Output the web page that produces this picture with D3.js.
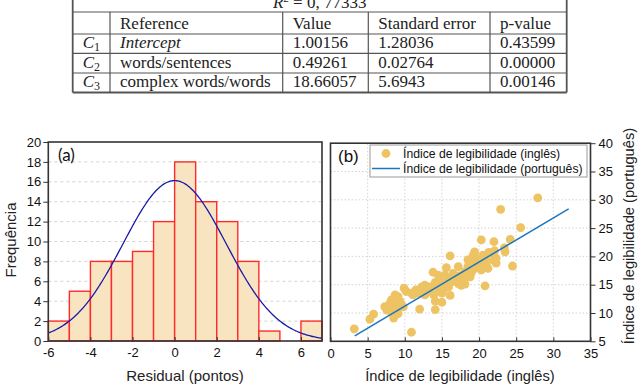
<!DOCTYPE html>
<html>
<head>
<meta charset="utf-8">
<script src="https://cdn.jsdelivr.net/npm/d3@7"></script>
<style>
  body { margin: 0; background: #fff; }
  svg { display: block; }
</style>
</head>
<body>
<svg id="chart" width="640" height="385"></svg>
<script>
// ---- table data ----
const rSquaredText = "0, 77333";
const tableHeader = ["", "Reference", "Value", "Standard error", "p-value"];
const coefIndex = ["1", "2", "3"];
const coefNames = ["Intercept", "words/sentences", "complex words/words"];
const coefValues = ["1.00156", "0.49261", "18.66057"];
const coefErrors = ["1.28036", "0.02764", "5.6943"];
const coefPValues = ["0.43599", "0.00000", "0.00146"];

// ---- histogram (a) ----
const binStarts = [-6, -5, -4, -3, -2, -1, 0, 1, 2, 3, 4, 5, 6];
const binCounts = [2, 5, 8, 8, 9, 12, 18, 14, 12, 8, 1, 0, 2];
const histXTicks = [-6, -4, -2, 0, 2, 4, 6];
const histYTicks = [0, 2, 4, 6, 8, 10, 12, 14, 16, 18, 20];
const fitMean = 0;
const fitSd = 2.45;

// ---- scatter (b) ----
const engIndex = [3.2, 10.9, 5.3, 5.8, 27.9, 22.9, 25.6, 20.3, 22.0, 24.2,
  24.5, 23.5, 23.4, 20.8, 16.1, 13.8, 15.6, 17.2, 19.2, 19.7,
  21.3, 21.9, 22.3, 21.2, 19.9, 20.3, 18.9, 18.1, 17.6, 16.7,
  15.9, 15.2, 14.5, 14.1, 13.2, 12.7, 12.3, 11.5, 9.9, 15.0,
  16.1, 14.1, 15.0, 14.1, 12.0, 10.2, 9.1, 8.7, 8.2, 8.9,
  7.8, 7.6, 8.5, 9.1, 9.8, 8.7, 18.1, 17.6, 16.5, 15.4,
  14.7, 13.4, 11.1, 12.7, 18.5, 19.4, 20.8, 21.7, 21.0, 18.8,
  17.2, 15.9, 13.9, 12.7, 11.8, 8.0, 9.4, 17.4, 16.3, 15.4,
  19.7, 22.3, 18.5, 18.1, 19.2, 20.3, 12.3, 13.9, 15.2, 17.9,
  8.2, 7.3, 22.1, 16.7, 14.5, 10.9, 20.5, 19.4];
const porIndex = [7.2, 6.6, 8.9, 9.8, 30.35, 28.3, 25.1, 22.9, 22.6, 23.0,
  18.3, 20.8, 21.5, 14.8, 20.1, 17.2, 18.0, 18.2, 20.2, 19.6,
  20.7, 19.4, 18.8, 17.9, 18.0, 19.1, 17.0, 16.1, 14.9, 15.8,
  16.1, 15.2, 14.4, 15.4, 14.6, 14.9, 13.8, 14.1, 14.4, 13.5,
  13.1, 12.1, 11.9, 10.6, 10.7, 13.8, 12.9, 13.2, 12.3, 11.4,
  10.8, 10.5, 9.1, 9.9, 11.1, 10.8, 17.3, 16.4, 17.0, 16.7,
  15.8, 13.8, 13.2, 14.1, 18.2, 18.8, 19.6, 20.6, 18.5, 16.4,
  15.2, 14.6, 13.2, 13.2, 13.5, 11.7, 12.0, 16.6, 15.5, 14.4,
  18.2, 19.7, 19.4, 15.1, 17.6, 17.6, 14.6, 14.9, 16.2, 15.8,
  10.2, 11.1, 21.0, 16.7, 16.7, 13.5, 20.2, 20.8];
const fitLineX = [3.26, 32.06];
const fitLineY = [5.97, 28.4];
const scatterXTicks = [0, 5, 10, 15, 20, 25, 30, 35];
const scatterYTicks = [5, 10, 15, 20, 25, 30, 35, 40];
const legendLabels = ["Índice de legibilidade (inglês)", "Índice de legibilidade (português)"];

const svg = d3.select("#chart");
const sans = "'Liberation Sans', Arial, sans-serif";
const serif = "'Liberation Serif', 'Times New Roman', serif";

// ================= table =================
const colLines = [72.7, 110, 282.7, 368.3, 490, 566.7];
const rowLines = [12, 34, 53.3, 73, 92.5];
const rowBase = [29, 48.3, 68, 87.3];
const tbl = svg.append("g").attr("font-family", serif).attr("font-size", 17).attr("fill", "#222");

tbl.append("text").attr("x", (colLines[0] + colLines[5]) / 2).attr("y", 7.5)
  .attr("text-anchor", "middle")
  .call(t => {
    t.append("tspan").attr("font-style", "italic").text("R");
    t.append("tspan").attr("font-size", 11).attr("dy", -6).text("2");
    t.append("tspan").attr("dy", 6).text(" = " + rSquaredText);
  });

rowLines.forEach((y, i) => {
  tbl.append("line").attr("x1", colLines[0]).attr("x2", colLines[5]).attr("y1", y).attr("y2", y)
    .attr("stroke", "#555").attr("stroke-width", i === rowLines.length - 1 ? 1.8 : 1.2);
});
colLines.forEach((x, i) => {
  const outer = i === 0 || i === colLines.length - 1;
  tbl.append("line").attr("x1", x).attr("x2", x)
    .attr("y1", outer ? -2 : rowLines[0]).attr("y2", rowLines[rowLines.length - 1])
    .attr("stroke", "#555").attr("stroke-width", outer ? 1.8 : 1.2);
});

tableHeader.forEach((h, i) => {
  tbl.append("text").attr("x", colLines[i] + 10).attr("y", rowBase[0]).text(h);
});
coefNames.forEach((name, r) => {
  const y = rowBase[r + 1];
  tbl.append("text").attr("x", colLines[0] + 10).attr("y", y).call(t => {
    t.append("tspan").attr("font-style", "italic").text("C");
    t.append("tspan").attr("font-size", 12).attr("dy", 3).text(coefIndex[r]);
  });
  tbl.append("text").attr("x", colLines[1] + 10).attr("y", y)
    .attr("font-style", r === 0 ? "italic" : "normal").text(name);
  tbl.append("text").attr("x", colLines[2] + 10).attr("y", y).text(coefValues[r]);
  tbl.append("text").attr("x", colLines[3] + 10).attr("y", y).text(coefErrors[r]);
  tbl.append("text").attr("x", colLines[4] + 10).attr("y", y).text(coefPValues[r]);
});

// ================= histogram (a) =================
const hx = d3.scaleLinear().domain([-6, 7]).range([48.3, 322]);
const hy = d3.scaleLinear().domain([0, 20]).range([341, 142]);
const ha = svg.append("g");

ha.selectAll("line.grid").data(histYTicks.filter(d => d > 0 && d < 20)).enter()
  .append("line").attr("class", "grid")
  .attr("x1", hx(-6)).attr("x2", hx(7)).attr("y1", d => hy(d)).attr("y2", d => hy(d))
  .attr("stroke", "#c8c8c8").attr("stroke-width", 0.8).attr("stroke-dasharray", "3,3");

ha.selectAll("rect.bar").data(binStarts.map((s, i) => ({s, c: binCounts[i]})).filter(d => d.c > 0))
  .enter().append("rect").attr("class", "bar")
  .attr("x", d => hx(d.s)).attr("width", d => hx(d.s + 1) - hx(d.s))
  .attr("y", d => hy(d.c)).attr("height", d => hy(0) - hy(d.c))
  .attr("fill", "#f8e4c0").attr("stroke", "#ff2b2b").attr("stroke-width", 1.4);

const total = d3.sum(binCounts);
const curvePts = d3.range(-6, 7.001, 0.05).map(x => [x,
  total / (fitSd * Math.sqrt(2 * Math.PI)) * Math.exp(-((x - fitMean) ** 2) / (2 * fitSd * fitSd))]);
ha.append("path").datum(curvePts)
  .attr("d", d3.line().x(d => hx(d[0])).y(d => hy(d[1])))
  .attr("fill", "none").attr("stroke", "#1a1aa6").attr("stroke-width", 1.3);

const hyAxis = ha.append("g").attr("transform", `translate(${hx(-6)},0)`)
  .call(d3.axisLeft(hy).tickValues(histYTicks).tickSize(5).tickPadding(2));
const hxAxis = ha.append("g").attr("transform", `translate(0,${hy(0)})`)
  .call(d3.axisBottom(hx).tickValues(histXTicks).tickFormat(d => String(d)).tickSize(-4).tickPadding(7));
[hyAxis, hxAxis].forEach(a => {
  a.select(".domain").remove();
  a.selectAll("line").attr("stroke", "#333");
  a.selectAll("text").attr("font-family", sans).attr("font-size", 13).attr("fill", "#111");
});

ha.append("rect").attr("x", hx(-6)).attr("y", hy(20))
  .attr("width", hx(7) - hx(-6)).attr("height", hy(0) - hy(20))
  .attr("fill", "none").attr("stroke", "#333").attr("stroke-width", 1.6);

ha.append("text").attr("x", 58).attr("y", 161).attr("font-family", "Lato, 'Open Sans', sans-serif")
  .attr("font-size", 17).attr("fill", "#111").text("(a)");
ha.append("text").attr("x", 185).attr("y", 381).attr("text-anchor", "middle")
  .attr("font-family", sans).attr("font-size", 15).attr("fill", "#222").text("Residual (pontos)");
ha.append("text").attr("transform", "translate(16,240) rotate(-90)").attr("text-anchor", "middle")
  .attr("font-family", sans).attr("font-size", 15).attr("fill", "#222").text("Frequência");

// ================= scatter (b) =================
const sx = d3.scaleLinear().domain([0, 35]).range([330.5, 590.5]);
const sy = d3.scaleLinear().domain([5, 40]).range([341.3, 143.2]);
const sb = svg.append("g");

sb.selectAll("line.vg").data(scatterXTicks.slice(1, -1)).enter().append("line").attr("class", "vg")
  .attr("x1", d => sx(d)).attr("x2", d => sx(d)).attr("y1", sy(5)).attr("y2", sy(40))
  .attr("stroke", "#cfcfcf").attr("stroke-width", 0.9).attr("stroke-dasharray", "1.5,2");
sb.selectAll("line.hg").data(scatterYTicks.slice(1, -1)).enter().append("line").attr("class", "hg")
  .attr("x1", sx(0)).attr("x2", sx(35)).attr("y1", d => sy(d)).attr("y2", d => sy(d))
  .attr("stroke", "#cfcfcf").attr("stroke-width", 0.9).attr("stroke-dasharray", "1.5,2");

const pts = engIndex.map((x, i) => ({x, y: porIndex[i]}));
sb.selectAll("circle.pt").data(pts).enter().append("circle").attr("class", "pt")
  .attr("cx", d => sx(d.x)).attr("cy", d => sy(d.y)).attr("r", 4.4).attr("fill", "#edc363");

sb.append("line").attr("x1", sx(fitLineX[0])).attr("y1", sy(fitLineY[0]))
  .attr("x2", sx(fitLineX[1])).attr("y2", sy(fitLineY[1]))
  .attr("stroke", "#1b76c0").attr("stroke-width", 1.5);

const syAxis = sb.append("g").attr("transform", `translate(${sx(35)},0)`)
  .call(d3.axisRight(sy).tickValues(scatterYTicks).tickSize(5).tickPadding(3));
const sxAxis = sb.append("g").attr("transform", `translate(0,${sy(5)})`)
  .call(d3.axisBottom(sx).tickValues(scatterXTicks).tickSize(-4).tickPadding(7));
[syAxis, sxAxis].forEach(a => {
  a.select(".domain").remove();
  a.selectAll("line").attr("stroke", "#333");
  a.selectAll("text").attr("font-family", sans).attr("font-size", 13).attr("fill", "#111");
});

sb.append("rect").attr("x", sx(0)).attr("y", sy(40))
  .attr("width", sx(35) - sx(0)).attr("height", sy(5) - sy(40))
  .attr("fill", "none").attr("stroke", "#333").attr("stroke-width", 1.6);

// legend
const lg = sb.append("g");
lg.append("rect").attr("x", 370).attr("y", 145).attr("width", 217).attr("height", 32)
  .attr("fill", "#fff").attr("stroke", "#999").attr("stroke-width", 1);
lg.append("circle").attr("cx", 386).attr("cy", 153.5).attr("r", 4.4).attr("fill", "#edc363");
lg.append("line").attr("x1", 372).attr("x2", 400).attr("y1", 168.5).attr("y2", 168.5)
  .attr("stroke", "#1b76c0").attr("stroke-width", 1.5);
legendLabels.forEach((t, i) => {
  lg.append("text").attr("x", 403).attr("y", 158 + i * 14.8)
    .attr("font-family", sans).attr("font-size", 12.2).attr("fill", "#111").text(t);
});

sb.append("text").attr("x", 338).attr("y", 162).attr("font-family", sans)
  .attr("font-size", 17).attr("fill", "#111").text("(b)");
sb.append("text").attr("x", 460).attr("y", 381).attr("text-anchor", "middle")
  .attr("font-family", sans).attr("font-size", 14.7).attr("fill", "#222").text("Índice de legibilidade (inglês)");
sb.append("text").attr("transform", "translate(634,236) rotate(-90)").attr("text-anchor", "middle")
  .attr("font-family", sans).attr("font-size", 14.7).attr("fill", "#222").text("Índice de legibilidade (português)");
</script>
</body>
</html>
